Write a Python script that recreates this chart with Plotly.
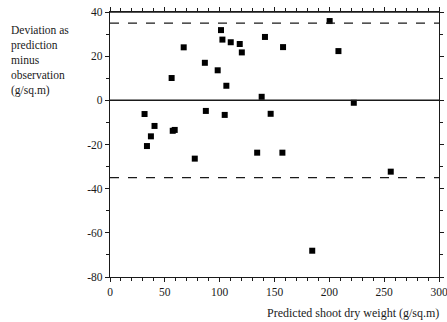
import plotly.graph_objects as go

predicted = [31.5, 33.7, 37.3, 40.6, 56.2, 57.2, 59.0, 67.2, 77.3, 86.5, 87.4, 98.2,
             101.2, 102.5, 104.6, 106.1, 110.1, 118.3, 120.2, 134.2, 138.3, 141.3,
             146.5, 157.8, 157.2, 200.3, 208.3, 222.3, 256.0, 184.4]
deviation = [-6.2, -20.7, -16.3, -11.6, 10.1, -13.8, -13.4, 24.0, -26.4, 17.0, -4.8, 13.6,
             31.8, 27.5, -6.6, 6.6, 26.3, 25.5, 21.7, -23.7, 1.6, 28.7,
             -6.1, 24.1, -23.7, 35.9, 22.3, -1.1, -32.3, -68.1]

limit_upper = 35
limit_lower = -35

x_ticks = [0, 50, 100, 150, 200, 250, 300]
x_ticktext = ["0", "50", "100", "150", "200", "250", "300"]
y_ticks = [-80, -60, -40, -20, 0, 20, 40]
y_ticktext = ["-80", "-60", "-40", "-20", "0", "20", "40"]

font_family = "Liberation Serif"
ink = "#1a1a1a"

fig = go.Figure()
fig.add_trace(go.Scatter(
    x=predicted, y=deviation, mode="markers",
    marker=dict(symbol="square", size=6, color="black"),
    showlegend=False, cliponaxis=False))

fig.add_hline(y=0, line=dict(color=ink, width=1.5))
fig.add_hline(y=limit_upper, line=dict(color=ink, width=1.2, dash="dash"))
fig.add_hline(y=limit_lower, line=dict(color=ink, width=1.2, dash="dash"))
# top frame line of the plot box
fig.add_hline(y=y_ticks[-1], line=dict(color=ink, width=1.5))

axis_common = dict(showgrid=False, zeroline=False, showline=True, linecolor=ink,
                   linewidth=1.3, mirror="allticks", ticks="outside", ticklen=4,
                   tickcolor=ink, automargin=False, ticklabeloverflow="allow",
                   tickfont=dict(family=font_family, size=11.5, color=ink))

fig.update_xaxes(range=[0, 300], tickvals=x_ticks, ticktext=x_ticktext,
                 minor=dict(dtick=10, ticks="outside", ticklen=3, tickcolor=ink),
                 **axis_common)
fig.update_yaxes(range=[-80, 40], tickvals=y_ticks, ticktext=y_ticktext,
                 minor=dict(dtick=10, ticks="outside", ticklen=3, tickcolor=ink),
                 **axis_common)

fig.add_annotation(text="Deviation as<br>prediction<br>minus<br>observation<br>(g/sq.m)",
                   xref="paper", yref="paper", x=-0.307, y=0.962, xanchor="left", yanchor="top",
                   align="left", showarrow=False,
                   font=dict(family=font_family, size=11.5, color=ink))
fig.add_annotation(text="Predicted shoot dry weight (g/sq.m)",
                   xref="paper", yref="paper", x=1.006, y=-0.135, xanchor="right", yanchor="middle",
                   showarrow=False, font=dict(family=font_family, size=12, color=ink))

fig.update_layout(width=447, height=322, margin=dict(l=110, r=8, t=12, b=45),
                  plot_bgcolor="white", paper_bgcolor="white",
                  font=dict(family=font_family, color=ink))

# remove the default 8px page margin so the figure sits at the window's corner
fig.write_html("out.html", config={"displayModeBar": False},
               post_script="document.body.style.margin='0';document.body.style.overflow='hidden';")
